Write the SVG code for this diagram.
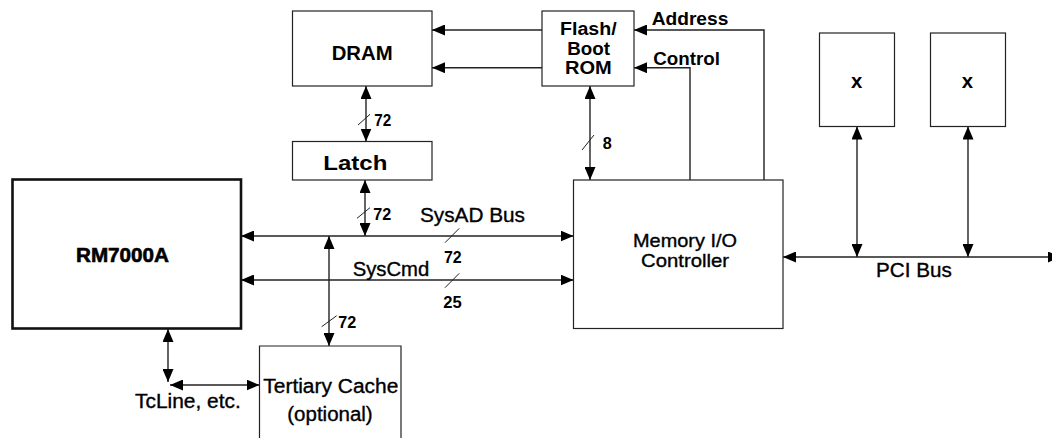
<svg xmlns="http://www.w3.org/2000/svg" width="1052" height="438" viewBox="0 0 1052 438">
<style>
.box{fill:#fff;stroke:#222;stroke-width:1.2}
.thick{stroke-width:2.6;stroke:#111}
.ln{fill:none;stroke:#222;stroke-width:1.4}
.arr{marker-start:url(#ah);marker-end:url(#ah)}
.one{marker-end:url(#ah)}
.sl{stroke:#222;stroke-width:1}
text{font-family:"Liberation Sans",Arial,Helvetica,sans-serif;fill:#000}
.b{font-weight:bold;font-size:20px}
.r{font-size:20px;stroke:#000;stroke-width:0.35}
.n{font-weight:bold;font-size:16px}
.f{font-weight:bold;font-size:18px}
.m{font-size:18.5px;stroke:#000;stroke-width:0.35}
</style>
<defs>
<marker id="ah" markerUnits="userSpaceOnUse" markerWidth="13" markerHeight="11" refX="13" refY="5.5" orient="auto-start-reverse">
<path d="M0,0 L13,5.5 L0,11 z" fill="#000"/>
</marker>
</defs>
<rect width="1052" height="438" fill="#fff"/>
<g id="connectors">
<line class="ln one" x1="542" y1="30" x2="432" y2="30"/>
<line class="ln one" x1="542" y1="67.7" x2="432" y2="67.7"/>
<path class="ln one" d="M764,180 V30 H634"/>
<path class="ln one" d="M690,180 V67.7 H634"/>
<line class="ln arr" x1="590" y1="86" x2="590" y2="180"/>
<line class="ln arr" x1="366" y1="86" x2="366" y2="141.5"/>
<line class="ln arr" x1="365" y1="180" x2="365" y2="236"/>
<line class="ln arr" x1="241" y1="236" x2="573.5" y2="236"/>
<line class="ln arr" x1="241" y1="280" x2="573.5" y2="280"/>
<line class="ln arr" x1="329" y1="236" x2="329" y2="346"/>
<line class="ln arr" x1="168" y1="329" x2="168" y2="382"/>
<line class="ln arr" x1="170" y1="385" x2="259.5" y2="385"/>
<line class="ln arr" x1="783" y1="257" x2="1061" y2="257"/>
<line class="ln arr" x1="857" y1="126.5" x2="857" y2="257"/>
<line class="ln arr" x1="968" y1="126.5" x2="968" y2="257"/>
<line class="sl" x1="358" y1="125" x2="370" y2="114.3"/>
<line class="sl" x1="357" y1="218.3" x2="370" y2="207.7"/>
<line class="sl" x1="582" y1="150" x2="594" y2="135"/>
<line class="sl" x1="445" y1="242.7" x2="459.3" y2="228.3"/>
<line class="sl" x1="445" y1="287.7" x2="459.3" y2="273.3"/>
<line class="sl" x1="321.7" y1="326.7" x2="336.7" y2="315.7"/>
<text class="n" x="374.3" y="125.7" textLength="17" lengthAdjust="spacingAndGlyphs">72</text>
<text class="n" x="373.3" y="220" textLength="18" lengthAdjust="spacingAndGlyphs">72</text>
<text class="r" x="420" y="222.3" textLength="105" lengthAdjust="spacingAndGlyphs">SysAD Bus</text>
<text class="n" x="444" y="262.7" textLength="17.7" lengthAdjust="spacingAndGlyphs">72</text>
<text class="r" x="352.7" y="275.7" textLength="76.6" lengthAdjust="spacingAndGlyphs">SysCmd</text>
<text class="n" x="443.3" y="307.7" textLength="18.4" lengthAdjust="spacingAndGlyphs">25</text>
<text class="n" x="338.3" y="327.5" textLength="18" lengthAdjust="spacingAndGlyphs">72</text>
<text class="n" x="602.7" y="149" textLength="9" lengthAdjust="spacingAndGlyphs">8</text>
<text class="b" style="font-size:19px" x="651.7" y="25" textLength="76.6" lengthAdjust="spacingAndGlyphs">Address</text>
<text class="b" style="font-size:19px" x="653.3" y="65" textLength="66.7" lengthAdjust="spacingAndGlyphs">Control</text>
<text class="r" x="876" y="277.3" textLength="75.7" lengthAdjust="spacingAndGlyphs">PCI Bus</text>
<text class="r" x="135" y="408.3" textLength="105.7" lengthAdjust="spacingAndGlyphs">TcLine, etc.</text>
</g>
<g id="dram">
<rect class="box" x="292.5" y="11" width="139.5" height="75"/>
<text class="b" x="331.7" y="59.5" textLength="61" lengthAdjust="spacingAndGlyphs">DRAM</text>
</g>
<g id="flash">
<rect class="box" x="542" y="11" width="92" height="75"/>
<text class="f" x="560" y="35" textLength="56.7" lengthAdjust="spacingAndGlyphs">Flash/</text>
<text class="f" x="567.3" y="55" textLength="42.7" lengthAdjust="spacingAndGlyphs">Boot</text>
<text class="f" x="565" y="74" textLength="46.7" lengthAdjust="spacingAndGlyphs">ROM</text>
</g>
<g id="latch">
<rect class="box" x="292.5" y="141.5" width="139.5" height="38.5"/>
<text class="b" x="323.3" y="170" textLength="64" lengthAdjust="spacingAndGlyphs">Latch</text>
</g>
<g id="rm7000a">
<rect class="box thick" x="12.5" y="179.5" width="228.5" height="149"/>
<text class="b" x="76" y="262" textLength="93" lengthAdjust="spacingAndGlyphs" stroke="#000" stroke-width="0.6">RM7000A</text>
</g>
<g id="memctl">
<rect class="box" x="573.5" y="180" width="209.5" height="148.5"/>
<text class="m" x="633" y="247" textLength="104" lengthAdjust="spacingAndGlyphs">Memory I/O</text>
<text class="m" x="641" y="266.5" textLength="88" lengthAdjust="spacingAndGlyphs">Controller</text>
</g>
<g id="x1">
<rect class="box" x="819.5" y="33" width="75" height="93.5"/>
<text class="b" x="851" y="88.3" textLength="11.3" lengthAdjust="spacingAndGlyphs">x</text>
</g>
<g id="x2">
<rect class="box" x="930.5" y="33" width="75" height="93.5"/>
<text class="b" x="961.7" y="88.3" textLength="11.3" lengthAdjust="spacingAndGlyphs">x</text>
</g>
<g id="tertiary">
<path class="box" d="M259.5,440 V346 H401 V440"/>
<text class="r" x="263.3" y="392.7" textLength="135" lengthAdjust="spacingAndGlyphs">Tertiary Cache</text>
<text class="r" x="287.3" y="420.7" textLength="85.4" lengthAdjust="spacingAndGlyphs">(optional)</text>
</g>
</svg>
